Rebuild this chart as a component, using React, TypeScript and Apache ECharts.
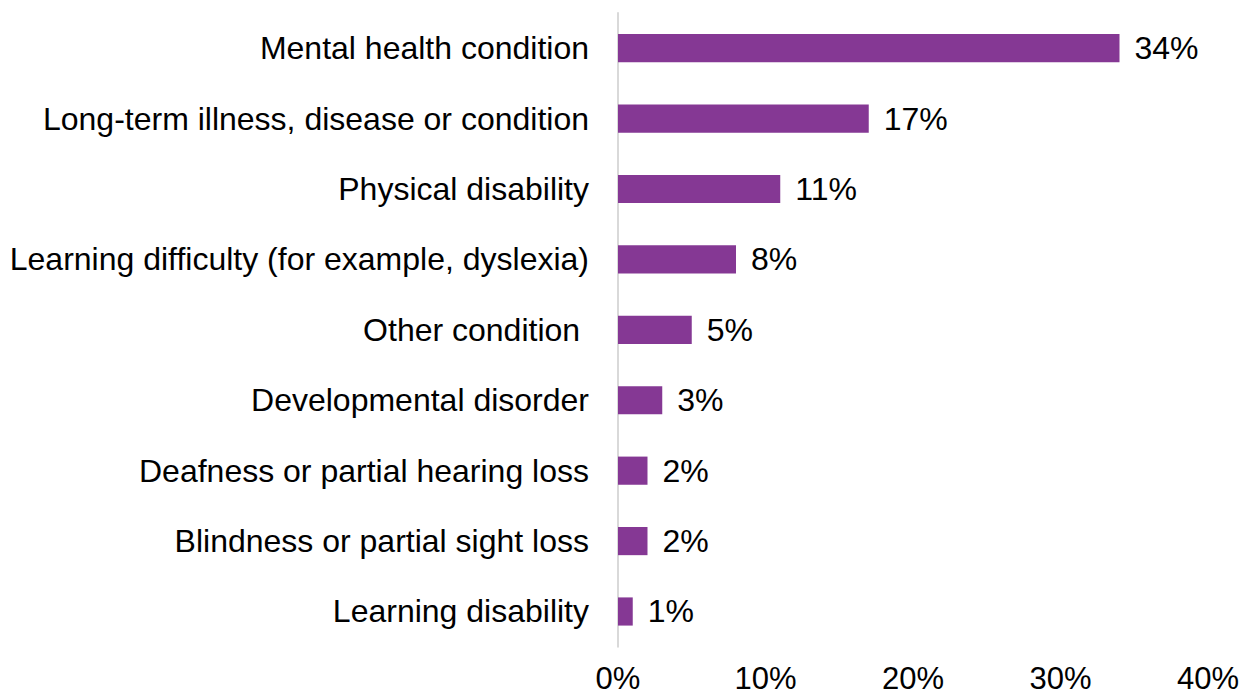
import React, { useEffect, useRef } from "react";
import * as echarts from "echarts";

const categories = [
  "Mental health condition",
  "Long-term illness, disease or condition",
  "Physical disability",
  "Learning difficulty (for example, dyslexia)",
  "Other condition ",
  "Developmental disorder",
  "Deafness or partial hearing loss",
  "Blindness or partial sight loss",
  "Learning disability",
];
const values = [34, 17, 11, 8, 5, 3, 2, 2, 1];
const xTicks = { min: 0, max: 40, interval: 10 };

export default function App() {
  const ref = useRef<HTMLDivElement>(null);
  useEffect(() => {
    if (!ref.current) return;
    const chart = echarts.init(ref.current, undefined, { renderer: "svg" });
    const font = "Liberation Sans, Arial, sans-serif";
    const fs = 32;
    chart.setOption({
      animation: false,
      grid: { left: 618, right: 36, top: 13, bottom: 52.3, containLabel: false },
      xAxis: {
        type: "value",
        min: xTicks.min,
        max: xTicks.max,
        interval: xTicks.interval,
        axisLine: { show: false },
        axisTick: { show: false },
        splitLine: { show: false },
        axisLabel: {
          formatter: "{value}%",
          color: "#000",
          fontSize: 31,
          lineHeight: 26,
          fontFamily: font,
          margin: 19,
        },
      },
      yAxis: {
        type: "category",
        inverse: true,
        data: categories,
        axisLine: { show: true, lineStyle: { color: "#d9d9d9", width: 2 } },
        axisTick: { show: false },
        axisLabel: {
          color: "#000",
          fontSize: fs,
          fontFamily: font,
          margin: 29,
        },
      },
      series: [
        {
          type: "bar",
          data: values,
          barWidth: "40%",
          itemStyle: { color: "#853894" },
          label: {
            show: true,
            position: "right",
            distance: 15,
            formatter: "{c}%",
            color: "#000",
            fontSize: fs,
            fontFamily: font,
          },
        },
      ],
    });
    return () => chart.dispose();
  }, []);
  return (
    <div
      ref={ref}
      style={{ position: "fixed", left: 0, top: 0, width: 1244, height: 699, background: "#fff" }}
    />
  );
}
